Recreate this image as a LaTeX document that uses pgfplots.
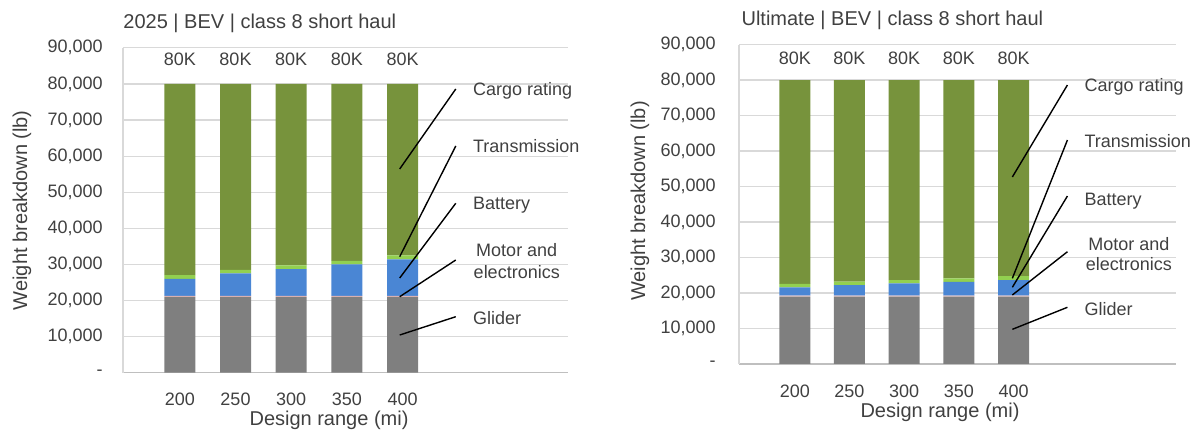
\documentclass[border=0pt]{standalone}
\usepackage{pgfplots}
\pgfplotsset{compat=1.18}
\usepackage{pgfplotstable}
\usepackage{fontspec}
\setmainfont{Liberation Sans}

\definecolor{glider}{HTML}{7F7F7F}
\definecolor{motor}{HTML}{E6B9B8}
\definecolor{battery}{HTML}{4A86D4}
\definecolor{trans}{HTML}{92D050}
\definecolor{cargo}{HTML}{77933C}
\definecolor{txt}{HTML}{404040}
\definecolor{gridc}{HTML}{D9D9D9}
\definecolor{basec}{HTML}{BFBFBF}

% 2025 | BEV | class 8 short haul (lb)
\pgfplotstableread{
x glider motor battery trans cargo
0 21000 300 4700  1000 53000
1 21000 300 6200  1000 51500
2 21000 300 7400  1000 50300
3 21000 300 8700  1000 49000
4 21000 300 10100 1100 47500
}\nearterm

% Ultimate | BEV | class 8 short haul (lb)
\pgfplotstableread{
x glider motor battery trans cargo
0 19000 250 2350 950  57450
1 19000 250 3000 950  56800
2 19000 250 3450 950  56350
3 19000 250 3900 950  55900
4 19000 250 4400 1100 55250
}\ultimate

\pgfplotsset{
  wt/.style={
    scale only axis, ybar stacked, bar width=15.5pt, clip=false,
    ymin=0, ymax=90000, xmin=-1.02, xmax=6.97,
    scaled y ticks=false,
    xtick={0,1,2,3,4}, xticklabels={200,250,300,350,400},
    ytick={0,10000,...,90000},
    yticklabels={{-\hspace{4.5pt}},{10,000},{20,000},{30,000},{40,000},{50,000},{60,000},{70,000},{80,000},{90,000}},
    ymajorgrids, grid style={gridc, line width=0.6pt},
    axis x line*=bottom, axis y line*=left,
    x axis line style={basec, line width=0.8pt},
    y axis line style={gridc, line width=0.6pt},
    tick style={draw=none},
    tick label style={font=\fontsize{9}{10}\selectfont, text=txt, inner sep=0pt},
    xticklabel style={anchor=base, yshift=-16.5pt},
    yticklabel style={anchor=east},
    xlabel={Design range (mi)}, ylabel={Weight breakdown (lb)},
    label style={font=\fontsize{10}{12}\selectfont, text=txt, inner sep=0pt},
    title style={font=\fontsize{10}{12}\selectfont, text=txt, inner sep=0pt, anchor=base west},
  },
}
\tikzset{
  lead/.style={black, line width=0.7pt},
  ann/.style={font=\fontsize{9}{10}\selectfont, text=txt, inner sep=0pt},
}

\begin{document}
\begin{tikzpicture}
\path[use as bounding box] (0,0) rectangle (598pt,217pt);

\begin{axis}[wt,
  at={(61.5pt,30.65pt)}, anchor=south west,
  width=222.5pt, height=162.45pt,
  yticklabel style={xshift=-10pt},
  title={2025 | BEV | class 8 short haul},
  title style={at={(axis description cs:0,1.021)}},
  xlabel style={at={(axis description cs:0.463,-0.161)}, anchor=base},
  ylabel style={at={(axis description cs:-0.227,0.5)}, anchor=center},
]
\addplot[fill=glider, draw=none] table[x=x, y=glider] {\nearterm};
\addplot[fill=motor, draw=none] table[x=x, y=motor] {\nearterm};
\addplot[fill=battery, draw=none] table[x=x, y=battery] {\nearterm};
\addplot[fill=trans, draw=none] table[x=x, y=trans] {\nearterm};
\addplot[fill=cargo, draw=none] table[x=x, y=cargo] {\nearterm};
\pgfplotsinvokeforeach{0,...,4}{
  \node[ann, anchor=base] at (axis cs:#1,85000) {80K};
}
\coordinate (a1) at (axis cs:4.955,78590); \coordinate (b1) at (axis cs:3.948,56430);
\coordinate (a2) at (axis cs:4.955,62800); \coordinate (b2) at (axis cs:3.948,32130);
\coordinate (a3) at (axis cs:4.955,46930); \coordinate (b3) at (axis cs:3.948,26230);
\coordinate (a4) at (axis cs:4.955,31220); \coordinate (b4) at (axis cs:3.948,21050);
\coordinate (a5) at (axis cs:4.955,15510); \coordinate (b5) at (axis cs:3.948,10440);
\node[ann, anchor=base west] at (axis cs:5.26,76920) {Cargo rating};
\node[ann, anchor=base west] at (axis cs:5.26,60860) {Transmission};
\node[ann, anchor=base west] at (axis cs:5.26,45070) {Battery};
\node[ann, anchor=base] at (axis cs:6.05,32130) {Motor and};
\node[ann, anchor=base] at (axis cs:6.05,26230) {electronics};
\node[ann, anchor=base west] at (axis cs:5.26,13490) {Glider};
\end{axis}
\foreach \k in {1,...,5} {\draw[lead] (a\k) -- (b\k);}

\begin{axis}[wt,
  at={(369.5pt,35pt)}, anchor=south west,
  width=218.5pt, height=159.75pt,
  yticklabel style={xshift=-11.5pt},
  title={Ultimate | BEV | class 8 short haul},
  title style={at={(axis description cs:0.005,1.0235)}},
  xlabel style={at={(axis description cs:0.46,-0.166)}, anchor=base},
  ylabel style={at={(axis description cs:-0.2265,0.51)}, anchor=center},
]
\addplot[fill=glider, draw=none] table[x=x, y=glider] {\ultimate};
\addplot[fill=motor, draw=none] table[x=x, y=motor] {\ultimate};
\addplot[fill=battery, draw=none] table[x=x, y=battery] {\ultimate};
\addplot[fill=trans, draw=none] table[x=x, y=trans] {\ultimate};
\addplot[fill=cargo, draw=none] table[x=x, y=cargo] {\ultimate};
\pgfplotsinvokeforeach{0,...,4}{
  \node[ann, anchor=base] at (axis cs:#1,84300) {80K};
}
\coordinate (c1) at (axis cs:4.985,78590); \coordinate (d1) at (axis cs:3.978,52680);
\coordinate (c2) at (axis cs:4.985,63100); \coordinate (d2) at (axis cs:3.978,24140);
\coordinate (c3) at (axis cs:4.985,47320); \coordinate (d3) at (axis cs:3.978,21610);
\coordinate (c4) at (axis cs:4.985,31630); \coordinate (d4) at (axis cs:3.978,19440);
\coordinate (c5) at (axis cs:4.985,15970); \coordinate (d5) at (axis cs:3.978,9770);
\node[ann, anchor=base west] at (axis cs:5.29,76700) {Cargo rating};
\node[ann, anchor=base west] at (axis cs:5.29,60850) {Transmission};
\node[ann, anchor=base west] at (axis cs:5.29,44790) {Battery};
\node[ann, anchor=base] at (axis cs:6.11,32110) {Motor and};
\node[ann, anchor=base] at (axis cs:6.11,26280) {electronics};
\node[ann, anchor=base west] at (axis cs:5.29,13800) {Glider};
\end{axis}
\foreach \k in {1,...,5} {\draw[lead] (c\k) -- (d\k);}
\end{tikzpicture}
\end{document}
